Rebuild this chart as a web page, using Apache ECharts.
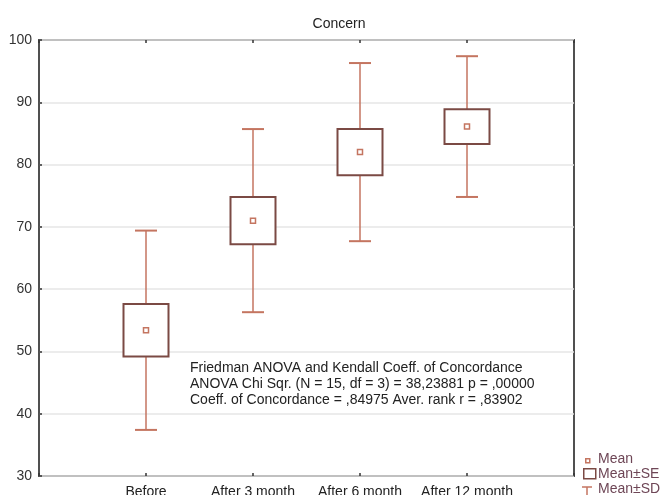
<!DOCTYPE html>
<html>
<head>
<meta charset="utf-8">
<script src="https://cdn.jsdelivr.net/npm/echarts@6/dist/echarts.min.js"></script>
<style>
html,body{margin:0;padding:0;background:#fff;}
#chart{width:662px;height:495px;}
</style>
</head>
<body>
<div id="chart"></div>
<script>
var categories = ['Before', 'After 3 month', 'After 6 month', 'After 12 month'];
var means = [53.4, 71.0, 82.0, 86.1];
var seValues = [4.2, 3.8, 3.7, 2.8];
var sdValues = [16.0, 14.7, 14.3, 11.3];
var yTicks = [30, 40, 50, 60, 70, 80, 90, 100];
var titleText = 'Concern';
var noteLines = [
  'Friedman ANOVA and Kendall Coeff. of Concordance',
  'ANOVA Chi Sqr. (N = 15, df = 3) = 38,23881 p = ,00000',
  'Coeff. of Concordance = ,84975 Aver. rank r = ,83902'
];
var legendItems = ['Mean', 'Mean\u00B1SE', 'Mean\u00B1SD'];

var data = categories.map(function (c, i) {
  return [i + 1, means[i], seValues[i], sdValues[i]];
});

var whiskerColor = '#c47560';
var boxColor = '#7b4a44';
var FONT = '"Liberation Sans", Arial, sans-serif';

function renderItem(params, api) {
  var x = api.value(0), m = api.value(1), se = api.value(2), sd = api.value(3);
  var pTop = api.coord([x, m + sd]);
  var pBot = api.coord([x, m - sd]);
  var bTop = api.coord([x, m + se]);
  var bBot = api.coord([x, m - se]);
  var pm = api.coord([x, m]);
  var cx = pm[0];
  var bw = 45, cw = 22;
  return {
    type: 'group',
    children: [
      { type: 'line', shape: { x1: cx, y1: pTop[1], x2: cx, y2: bTop[1] }, style: { stroke: whiskerColor, lineWidth: 1.5 } },
      { type: 'line', shape: { x1: cx, y1: bBot[1], x2: cx, y2: pBot[1] }, style: { stroke: whiskerColor, lineWidth: 1.5 } },
      { type: 'line', shape: { x1: cx - cw / 2, y1: pTop[1], x2: cx + cw / 2, y2: pTop[1] }, style: { stroke: whiskerColor, lineWidth: 2 } },
      { type: 'line', shape: { x1: cx - cw / 2, y1: pBot[1], x2: cx + cw / 2, y2: pBot[1] }, style: { stroke: whiskerColor, lineWidth: 2 } },
      { type: 'rect', shape: { x: cx - bw / 2, y: bTop[1], width: bw, height: bBot[1] - bTop[1] }, style: { fill: '#fff', stroke: boxColor, lineWidth: 2 } },
      { type: 'rect', shape: { x: cx - 2.5, y: pm[1] - 2.5, width: 5, height: 5 }, style: { fill: '#fff', stroke: whiskerColor, lineWidth: 1.5 } }
    ]
  };
}

var chart = echarts.init(document.getElementById('chart'));
var xAxisBase = {
  type: 'value', min: 0, max: 5, interval: 1,
  axisLine: { show: false },
  splitLine: { show: false },
  axisTick: { show: true, inside: true, length: 3, lineStyle: { color: '#333', width: 1.5 } }
};
chart.setOption({
  animation: false,
  title: {
    text: titleText, left: 334, top: 12, textAlign: 'center',
    textStyle: { fontFamily: FONT, fontSize: 14, fontWeight: 'normal', color: '#222' }
  },
  grid: {
    left: 39, right: 88, top: 40, bottom: 19,
    outerBoundsMode: 'none', containLabel: false,
    show: true, borderColor: '#505050', borderWidth: 2, backgroundColor: 'transparent'
  },
  xAxis: [
    Object.assign({}, xAxisBase, {
      position: 'bottom',
      axisLabel: {
        fontFamily: FONT, fontSize: 14, color: '#222', margin: 9,
        formatter: function (v) { return categories[v - 1] || ''; }
      }
    }),
    Object.assign({}, xAxisBase, { position: 'top', axisLabel: { show: false } })
  ],
  yAxis: {
    type: 'value', min: yTicks[0], max: yTicks[yTicks.length - 1], interval: 10,
    axisLine: { show: false },
    axisTick: { show: true, inside: true, length: 3, lineStyle: { color: '#333', width: 1.5 } },
    axisLabel: { fontFamily: FONT, fontSize: 14, color: '#333', margin: 7 },
    splitLine: { show: true, lineStyle: { color: '#e6e6e6', width: 1.5 } }
  },
  series: [{
    type: 'custom',
    renderItem: renderItem,
    data: data,
    encode: { x: 0, y: 1 },
    clip: false,
    z: 5
  }],
  graphic: [
    {
      type: 'text', left: 190, top: 360, z: 10,
      style: { text: noteLines.join('\n'), font: '14px ' + FONT, fill: '#222', lineHeight: 16 }
    },
    { type: 'rect', left: 585, top: 458, z: 10, shape: { width: 4, height: 4 }, style: { fill: '#fff', stroke: whiskerColor, lineWidth: 1.5 } },
    { type: 'rect', left: 583, top: 468, z: 10, shape: { width: 12, height: 10 }, style: { fill: '#fff', stroke: boxColor, lineWidth: 1.5 } },
    { type: 'polyline', z: 10, shape: { points: [[582, 487], [592, 487]] }, style: { stroke: whiskerColor, lineWidth: 1.5 } },
    { type: 'polyline', z: 10, shape: { points: [[587, 487], [587, 495]] }, style: { stroke: whiskerColor, lineWidth: 1.5 } },
    {
      type: 'text', left: 598, top: 452, z: 10,
      style: { text: legendItems.join('\n'), font: '14px ' + FONT, fill: '#6e4656', lineHeight: 15 }
    }
  ]
});
</script>
</body>
</html>
